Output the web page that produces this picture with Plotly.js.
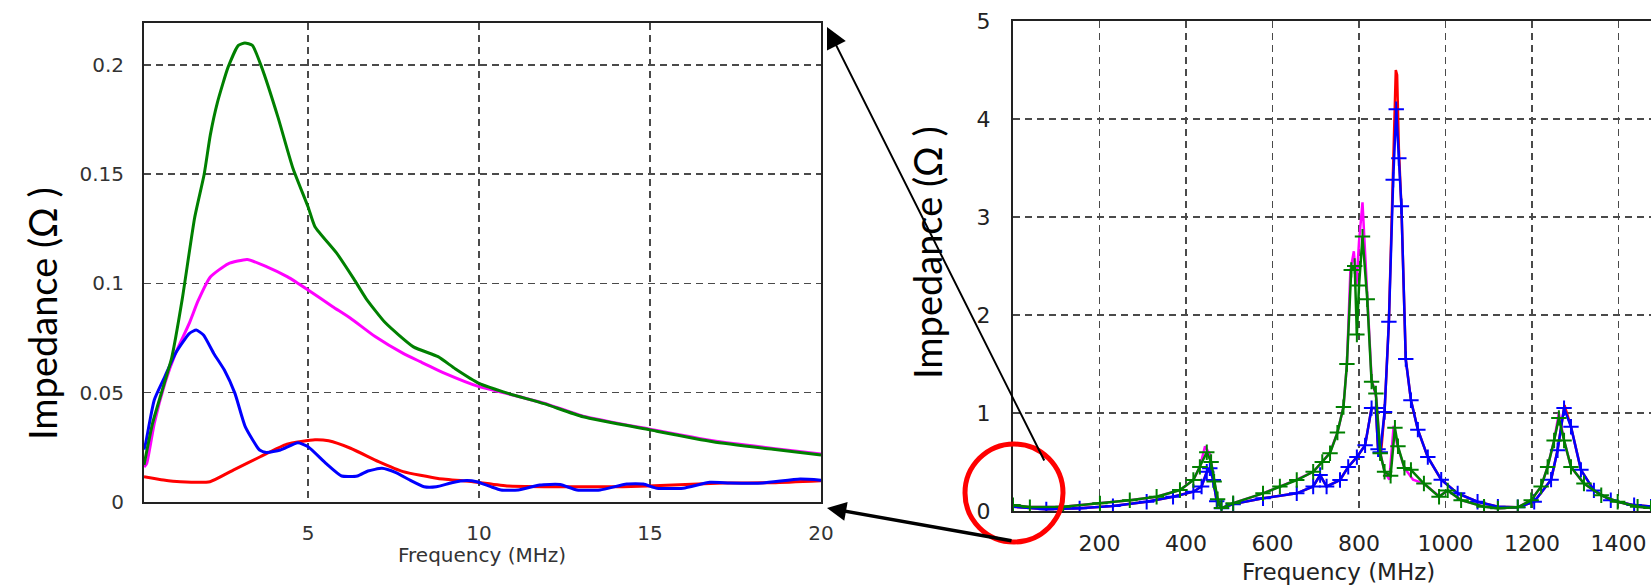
<!DOCTYPE html>
<html>
<head>
<meta charset="utf-8">
<script src="https://cdn.plot.ly/plotly-3.0.1.min.js"></script>
<style>
html,body{margin:0;padding:0;background:#fff;overflow:hidden;}
#chart{width:1651px;height:587px;}
</style>
</head>
<body>
<div id="chart"></div>
<script>
// ---------- Left panel: 0-20 MHz zoom ----------
const leftGreenX = [0.2,0.45,0.71,1.01,1.32,1.68,1.96,2.14,2.35,2.66,2.96,3.15,3.37,3.64,4.12,4.55,5.0,5.2,5.83,6.34,6.7,7.26,8.08,8.8,9.3,10.0,10.85,11.9,13.04,15.0,16.84,18.6,20];
const leftGreenY = [0.017,0.036,0.05,0.066,0.093,0.13,0.15,0.168,0.183,0.199,0.209,0.21,0.209,0.199,0.176,0.153,0.135,0.126,0.114,0.102,0.093,0.082,0.071,0.0665,0.061,0.0543,0.0497,0.045,0.039,0.033,0.0276,0.0241,0.0215];

const leftMagentaX = [0.2,0.28,0.5,0.81,1.12,1.53,1.78,2.14,2.66,3.22,3.78,4.4,5.0,5.72,6.24,6.96,7.78,8.28,9.0,10.0,10.85,11.9,13.04,15.0,16.84,18.6,20];
const leftMagentaY = [0.016,0.0177,0.036,0.0543,0.068,0.082,0.092,0.103,0.109,0.111,0.1077,0.103,0.097,0.0894,0.0841,0.0757,0.068,0.0642,0.0589,0.0528,0.0495,0.0452,0.0393,0.0333,0.028,0.0245,0.022];

const leftBlueX = [0.2,0.25,0.5,0.81,1.12,1.53,1.73,1.94,2.24,2.55,2.86,3.16,3.58,3.78,4.19,4.7,5.0,5.52,5.98,6.44,6.75,7.16,7.57,7.98,8.39,8.75,9.2,9.62,9.93,10.34,10.64,11.15,11.77,12.37,12.86,13.54,14.32,14.8,15.2,15.97,16.75,17.34,18.3,19.39,20];
const leftBlueY = [0.024,0.027,0.0467,0.0574,0.068,0.0772,0.0787,0.0764,0.068,0.0604,0.0497,0.0345,0.0238,0.0227,0.0238,0.0271,0.0253,0.0177,0.0119,0.0119,0.0142,0.0154,0.0134,0.010,0.007,0.007,0.0088,0.0098,0.0093,0.007,0.0055,0.0055,0.0078,0.008,0.0055,0.0055,0.0082,0.0082,0.0063,0.0063,0.009,0.0087,0.0087,0.0105,0.010];

const leftRedX = [0.2,0.77,1.26,2.13,2.81,3.6,4.38,5.2,5.6,6.24,7.06,7.78,8.8,9.82,10.85,11.98,12.76,14.2,15.67,17.13,18.6,20];
const leftRedY = [0.0116,0.0101,0.0093,0.0093,0.0146,0.0207,0.0265,0.0285,0.028,0.0246,0.0185,0.0139,0.0108,0.0093,0.0073,0.007,0.007,0.007,0.0078,0.0087,0.0088,0.0097];

// ---------- Right panel: full band ----------
const rightMagentaX = [0,39,116,201,270,332,386,417,432,444,455,463,471,482,509,578,617,656,694,715,733,750,764,772,780,788,794,800,808,819,829,840,849,859,870,880,889,905,925,950,985,1005,1036,1089,1121,1167,1198,1221,1236,1251,1262,1274,1290,1320,1360,1398,1444,1475];
const rightMagentaY = [0.06,0.04,0.044,0.078,0.11,0.146,0.214,0.316,0.45,0.66,0.58,0.36,0.15,0.03,0.08,0.18,0.25,0.32,0.40,0.5,0.6,0.8,1.06,1.5,2.45,2.65,2.3,2.75,3.15,2.2,1.35,1.15,0.6,0.4,0.32,0.87,0.66,0.44,0.32,0.28,0.15,0.21,0.11,0.045,0.027,0.038,0.11,0.25,0.45,0.72,1.0,0.72,0.45,0.28,0.16,0.095,0.044,0.03];

const rightGreenX = [0,39,116,201,270,332,386,417,432,448,458,465,473,482,509,578,617,656,694,715,733,750,764,772,782,790,795,800,808,819,829,839,849,859,873,883,890,905,920,950,985,1005,1036,1089,1121,1167,1198,1221,1236,1251,1262,1274,1290,1320,1360,1398,1444,1475];
const rightGreenY = [0.06,0.04,0.044,0.078,0.11,0.146,0.214,0.316,0.45,0.6,0.5,0.3,0.12,0.03,0.08,0.18,0.25,0.316,0.40,0.5,0.59,0.8,1.06,1.5,2.46,2.5,1.8,2.3,2.8,2.16,1.32,1.2,0.59,0.4,0.36,0.85,0.66,0.44,0.42,0.28,0.146,0.21,0.11,0.044,0.027,0.038,0.11,0.25,0.45,0.72,0.95,0.72,0.45,0.28,0.16,0.095,0.044,0.03];

const rightRedX = [0,77,154,231,309,370,417,436,448,456,463,471,482,509,578,656,694,710,725,756,775,795,814,829,839,844,850,859,869,879,885,888,892,898,908,920,936,959,990,1028,1074,1121,1167,1205,1244,1259,1275,1290,1313,1343,1382,1436,1475];
const rightRedY = [0.044,0.017,0.027,0.05,0.095,0.146,0.197,0.25,0.40,0.42,0.316,0.1,0.027,0.07,0.13,0.18,0.25,0.367,0.25,0.316,0.45,0.55,0.67,1.05,1.05,0.63,0.55,1.01,1.93,3.4,4.5,4.45,3.7,3.1,1.55,1.13,0.83,0.55,0.32,0.18,0.095,0.044,0.038,0.095,0.32,0.62,1.08,0.86,0.42,0.21,0.11,0.06,0.045];

const rightBlueX = [0,77,154,231,309,370,417,436,448,455,463,471,482,509,578,656,694,710,725,756,775,795,814,829,839,844,849,859,869,879,886,892,898,908,920,936,959,990,1028,1074,1121,1167,1205,1244,1259,1274,1290,1313,1343,1382,1436,1475];
const rightBlueY = [0.044,0.017,0.027,0.05,0.095,0.146,0.197,0.25,0.40,0.435,0.316,0.1,0.027,0.07,0.13,0.18,0.25,0.367,0.25,0.316,0.45,0.55,0.67,1.05,1.05,0.63,0.6,1.01,1.93,3.38,4.1,3.6,3.11,1.55,1.13,0.83,0.55,0.32,0.18,0.095,0.044,0.038,0.095,0.32,0.62,1.05,0.86,0.42,0.21,0.11,0.06,0.045];

// Tick labels
const leftXTicks = [5,10,15,20];
const leftYTicks = [0,0.05,0.1,0.15,0.2];
const leftYTickText = ['0','0.05','0.1','0.15','0.2'];
const rightXTicks = [200,400,600,800,1000,1200,1400];
const rightYTicks = [0,1,2,3,4,5];

const yTitleText = 'Impedance (Ω )';
const xTitleText = 'Frequency (MHz)';

// ---------- geometry helpers (pixel -> paper) ----------
const W = 1651, H = 587;
const px = v => v / W;
const py = v => 1 - v / H;

const RED = '#ff0000', MAG = '#ff00ff', BLUE = '#0000ff', GREEN = '#008000';

function leftTrace(x, y, c) {
  return {x, y, xaxis:'x', yaxis:'y', type:'scatter', mode:'lines',
          line:{color:c, width:3, shape:'spline', smoothing:0.5}, hoverinfo:'skip'};
}
function rightTrace(x, y, c, markers) {
  const t = {x, y, xaxis:'x2', yaxis:'y2', type:'scatter', mode: markers ? 'lines+markers' : 'lines',
          line:{color:c, width:2.5}, hoverinfo:'skip'};
  if (markers) t.marker = {symbol:'cross-thin', size:11, line:{color:c, width:2}, color:c};
  return t;
}

const data = [
  leftTrace(leftRedX, leftRedY, RED),
  leftTrace(leftMagentaX, leftMagentaY, MAG),
  leftTrace(leftBlueX, leftBlueY, BLUE),
  leftTrace(leftGreenX, leftGreenY, GREEN),
  rightTrace(rightRedX, rightRedY, RED, false),
  rightTrace(rightMagentaX, rightMagentaY, MAG, false),
  rightTrace(rightBlueX, rightBlueY, BLUE, true),
  rightTrace(rightGreenX, rightGreenY, GREEN, true)
];

const gridStyle = {showgrid:true, gridcolor:'#4a4a4a', gridwidth:1.5, griddash:'7px,5px',
                   zeroline:false, ticks:'', showline:true, linecolor:'#222222', linewidth:2};

const layout = {
  width: W, height: H,
  margin:{l:0, r:0, t:0, b:0},
  paper_bgcolor:'#ffffff', plot_bgcolor:'#ffffff',
  showlegend:false,
  xaxis: Object.assign({}, gridStyle, {
    domain:[px(144), px(821)], range:[0.2, 20], tickvals:leftXTicks, ticktext:leftXTicks.map(String),
    mirror:true, anchor:'y', ticklabelstandoff:12,
    tickfont:{family:'DejaVu Sans', size:20, color:'#333333'}
  }),
  yaxis: Object.assign({}, gridStyle, {
    domain:[py(502), py(23)], range:[0, 0.2192], tickvals:leftYTicks, ticktext:leftYTickText,
    mirror:true, anchor:'x', ticklabelstandoff:14,
    tickfont:{family:'DejaVu Sans', size:20, color:'#333333'}
  }),
  xaxis2: Object.assign({}, gridStyle, {
    domain:[px(1013), 1], range:[0, 1475], tickvals:rightXTicks, ticktext:rightXTicks.map(String),
    mirror:true, anchor:'y2', ticklabelstandoff:12,
    tickfont:{family:'DejaVu Sans', size:22, color:'#222222'}
  }),
  yaxis2: Object.assign({}, gridStyle, {
    domain:[py(511), py(21)], range:[0, 5], tickvals:rightYTicks, ticktext:rightYTicks.map(String),
    mirror:false, anchor:'x2', ticklabelstandoff:16,
    tickfont:{family:'DejaVu Sans', size:22, color:'#222222'}
  }),
  annotations: [
    {text:yTitleText, xref:'paper', yref:'paper', x:px(42), y:py(314), showarrow:false, textangle:-90,
     xanchor:'center', yanchor:'middle', font:{family:'Lato', size:38, color:'#000000'}},
    {text:yTitleText, xref:'paper', yref:'paper', x:px(927), y:py(253), showarrow:false, textangle:-90,
     xanchor:'center', yanchor:'middle', font:{family:'Lato', size:38, color:'#000000'}},
    {text:xTitleText, xref:'paper', yref:'paper', x:px(482), y:py(555), showarrow:false,
     xanchor:'center', yanchor:'middle', font:{family:'DejaVu Sans', size:20, color:'#333333'}},
    {text:xTitleText, xref:'paper', yref:'paper', x:px(1338), y:py(572), showarrow:false,
     xanchor:'center', yanchor:'middle', font:{family:'DejaVu Sans', size:23, color:'#222222'}},
    {text:'', xref:'paper', yref:'paper', x:px(827), y:py(27), showarrow:true, axref:'pixel', ayref:'pixel',
     ax:218, ay:435, arrowhead:2, arrowsize:2.1, arrowwidth:2, arrowcolor:'#000000', standoff:0},
    {text:'', xref:'paper', yref:'paper', x:px(827), y:py(508), showarrow:true, axref:'pixel', ayref:'pixel',
     ax:186, ay:33, arrowhead:2, arrowsize:1.1, arrowwidth:3.5, arrowcolor:'#000000', standoff:0}
  ],
  shapes: [
    {type:'circle', xref:'paper', yref:'paper', x0:px(965), x1:px(1063), y0:py(542), y1:py(444),
     line:{color:'#ff0000', width:5}, layer:'above'}
  ]
};

Plotly.newPlot('chart', data, layout, {staticPlot:true, displayModeBar:false});
</script>
</body>
</html>
